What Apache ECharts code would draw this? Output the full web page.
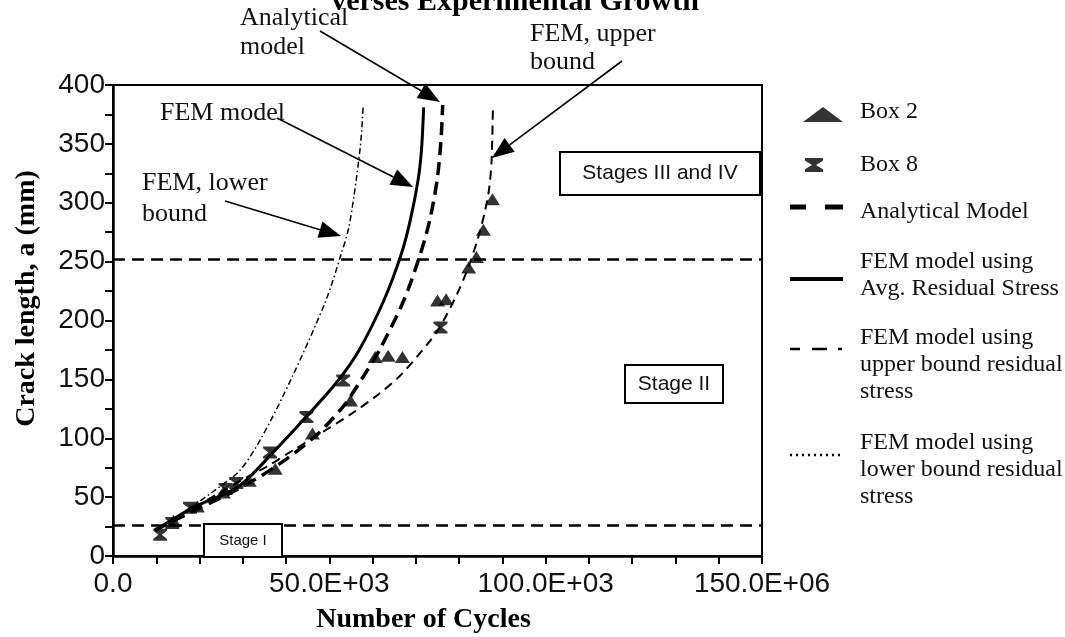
<!DOCTYPE html>
<html>
<head>
<meta charset="utf-8">
<script src="https://cdn.jsdelivr.net/npm/echarts@6/dist/echarts.min.js"></script>
<style>html,body{margin:0;padding:0;background:#fff}#c{width:1065px;height:637px}</style>
</head>
<body>
<div id="c"></div>
<script>
// ---------------- DATA ----------------
const xTickLabels = ['0.0', '50.0E+03', '100.0E+03', '150.0E+06'];

const box2Cycles = [87700, 85600, 84000, 82200, 75000, 77000, 60600, 63600, 66900, 54900, 46100, 37500, 31500, 25500, 19500, 14000];
const box2Crack  = [303, 277, 254, 245, 217, 218, 169, 170, 169, 132, 104, 74, 64, 54, 42, 30];

const box8Cycles = [75700, 53200, 44700, 36300, 28500, 26000, 17800, 13700, 10900];
const box8Crack  = [194, 149, 118, 88, 62, 57, 41, 28, 18];

const analyticalCycles = [9700, 19000, 28500, 37600, 46500, 53000, 57600, 61600, 67200, 71000, 73200, 74900, 75800, 76200];
const analyticalCrack  = [22, 39, 56, 76, 101, 126, 151, 175, 217, 256, 285, 319, 353, 383];

const femAvgCycles = [9700, 18500, 29000, 37000, 44600, 51800, 56900, 62600, 66600, 68700, 70500, 71300, 71800];
const femAvgCrack  = [22, 41, 59, 88, 118, 148, 175, 217, 256, 285, 319, 345, 381];

const femUpperCycles = [9700, 17800, 24800, 31000, 35600, 41700, 47900, 55200, 61600, 66600, 72900, 75500, 79600, 82100, 84200, 85800, 86900, 87500, 87800];
const femUpperCrack  = [22, 39, 54, 67, 76, 90, 104, 121, 138, 154, 181, 194, 223, 245, 268, 290, 311, 336, 381];

const femLowerCycles = [9700, 17800, 23600, 29400, 34400, 41400, 49200, 52700, 54500, 56200, 57300, 57800];
const femLowerCrack  = [22, 41, 56, 73, 101, 152, 217, 256, 279, 319, 353, 381];

const stageBoundaries = [252, 26];

// ---------------- LAYOUT / STYLE ----------------
const SERIF = 'Liberation Serif', SANS = 'Liberation Sans';
const zip = (xs, ys) => xs.map((x, i) => [x, ys[i]]);
const HOURGLASS = 'path://M0,0 L10,0 L10,1.6 L6.2,5 L10,8.4 L10,10 L0,10 L0,8.4 L3.8,5 L0,1.6 Z';

function dots(n, step, w, y0, y1) {
  let s = '';
  for (let i = 0; i < n; i++) { const x = i * step; s += `M${x},${y0} L${x + w},${y0} L${x + w},${y1} L${x},${y1} Z `; }
  return s;
}

const legendLayout = [
  { name: 'Box 2', label: 'Box 2', top: 98.5, h: 20,
    icon: 'path://M0,0 L0,0 M13,20 L33,5 L53,20 Z M65,20 L65,20' },
  { name: 'Box 8', label: 'Box 8', top: 151.5, h: 14,
    icon: 'path://M0,0 L0,0 M15,0 L33,0 L33,2.8 L26,7 L33,11.2 L33,14 L15,14 L15,11.2 L22,7 L15,2.8 Z M65,14 L65,14' },
  { name: 'Analytical Model', label: 'Analytical Model', top: 198.5, h: 20,
    icon: 'path://M0,0 L0,0 M0,2.5 L16,2.5 L16,7.5 L0,7.5 Z M35,2.5 L53,2.5 L53,7.5 L35,7.5 Z M65,20 L65,20' },
  { name: 'FEM model using Avg. Residual Stress', label: 'FEM model using\nAvg. Residual Stress', top: 248.5, h: 20,
    icon: 'path://M0,0 L0,0 M0,11.5 L53,11.5 L53,15.5 L0,15.5 Z M65,20 L65,20' },
  { name: 'FEM model using upper bound residual stress', label: 'FEM model using\nupper bound residual\nstress', top: 324.5, h: 40,
    icon: 'path://M0,0 L0,0 M0,2.75 L10,2.75 L10,5.25 L0,5.25 Z M22,2.75 L37,2.75 L37,5.25 L22,5.25 Z M48,2.75 L52,2.75 L52,5.25 L48,5.25 Z M65,40 L65,40' },
  { name: 'FEM model using lower bound residual stress', label: 'FEM model using\nlower bound residual\nstress', top: 429.5, h: 40,
    icon: 'path://M0,0 L0,0 ' + dots(9, 6, 2, 3.75, 6.25) + 'M65,40 L65,40' }
];

function arrow(x1, y1, x2, y2) {
  const a = Math.atan2(y2 - y1, x2 - x1), L = 22, W = 8.5;
  const bx = x2 - L * Math.cos(a), by = y2 - L * Math.sin(a);
  const nx = -Math.sin(a) * W, ny = Math.cos(a) * W;
  return [
    { type: 'line', silent: true, shape: { x1: x1, y1: y1, x2: bx, y2: by }, style: { stroke: '#000', lineWidth: 1.6 } },
    { type: 'polygon', silent: true, shape: { points: [[x2, y2], [bx + nx, by + ny], [bx - nx, by - ny]] }, style: { fill: '#000' } }
  ];
}
function note(text, x, y, lh) {
  return { type: 'text', silent: true, x: x, y: y,
    style: { text: text, font: `26px "${SERIF}"`, fill: '#111', lineHeight: lh, textVerticalAlign: 'top' } };
}
function stageBox(text, x, y, w, h, fs) {
  return [
    { type: 'rect', silent: true, shape: { x: x, y: y, width: w, height: h }, style: { fill: '#fff', stroke: '#000', lineWidth: 2 }, z: 50 },
    { type: 'text', silent: true, x: x + w / 2, y: y + h / 2, z: 51,
      style: { text: text, font: `${fs}px "${SANS}"`, fill: '#111', align: 'center', verticalAlign: 'middle' } }
  ];
}

const graphics = [].concat(
  [{ type: 'text', silent: true, x: 515, y: 2,
     style: { text: 'verses Experimental Growth', font: `bold 30px "${SERIF}"`, fill: '#000', align: 'center', verticalAlign: 'middle' } }],
  [note('Analytical\nmodel', 240, 4, 29)], arrow(320, 31, 440, 102),
  [note('FEM, upper\nbound', 530, 20, 28)], arrow(622, 61, 492, 158),
  [note('FEM model', 160, 99, 29)], arrow(277, 118, 413, 187),
  [note('FEM, lower\nbound', 142, 168, 31)], arrow(225, 201, 341, 236),
  stageBox('Stages III and IV', 560, 152, 200, 43, 21),
  stageBox('Stage II', 625, 365, 98, 38, 21),
  stageBox('Stage I', 204, 524, 78, 33, 15)
);

const chart = echarts.init(document.getElementById('c'), null, { renderer: 'canvas' });

const lineCommon = { type: 'line', smooth: 0.3, symbol: 'none', color: '#000', z: 3 };

const option = {
  backgroundColor: '#fff',
  animation: false,
  grid: { left: 113, right: 303, top: 85, bottom: 81, show: true, borderColor: '#000', borderWidth: 2,
          containLabel: false, outerBoundsMode: 'none' },
  xAxis: {
    type: 'value', min: 0, max: 150000, interval: 50000,
    name: 'Number of Cycles', nameLocation: 'middle', nameGap: 50,
    nameTextStyle: { fontFamily: SERIF, fontWeight: 'bold', fontSize: 28, color: '#000', padding: [0, 28, 0, 0] },
    axisLine: { show: true, lineStyle: { color: '#000', width: 2.5 } },
    axisTick: { show: true, inside: false, length: 8, lineStyle: { color: '#000', width: 2 } },
    minorTick: { show: true, splitNumber: 5, length: 8, lineStyle: { color: '#000', width: 2 } },
    splitLine: { show: false }, minorSplitLine: { show: false },
    axisLabel: { fontFamily: SANS, fontSize: 28, color: '#111', margin: 14,
                 formatter: v => xTickLabels[Math.round(v / 50000)] }
  },
  yAxis: {
    type: 'value', min: 0, max: 400, interval: 50,
    name: 'Crack length, a (mm)', nameLocation: 'middle', nameGap: 72, nameRotate: 90,
    nameTextStyle: { fontFamily: SERIF, fontWeight: 'bold', fontSize: 28, color: '#000', padding: [0, 0, 0, 44] },
    axisLine: { show: true, lineStyle: { color: '#000', width: 2.5 } },
    axisTick: { show: true, inside: false, length: 8, lineStyle: { color: '#000', width: 2 } },
    minorTick: { show: true, splitNumber: 2, length: 8, lineStyle: { color: '#000', width: 2 } },
    splitLine: { show: false }, minorSplitLine: { show: false },
    axisLabel: { fontFamily: SANS, fontSize: 28, color: '#111', margin: 8 }
  },
  legend: legendLayout.map(l => ({
    left: 790, top: l.top, orient: 'vertical', padding: 0, itemWidth: 65, itemHeight: l.h,
    selectedMode: false, itemStyle: { borderWidth: 0 },
    data: [{ name: l.name, icon: l.icon }],
    formatter: () => l.label,
    textStyle: { fontFamily: SERIF, fontSize: 24, lineHeight: 27, color: '#111' }
  })),
  graphic: graphics,
  series: [
    Object.assign({}, lineCommon, { name: 'FEM model using lower bound residual stress', data: zip(femLowerCycles, femLowerCrack),
      lineStyle: { color: '#000', width: 1.5, type: [6, 3, 1.5, 3] } }),
    Object.assign({}, lineCommon, { name: 'FEM model using upper bound residual stress', data: zip(femUpperCycles, femUpperCrack),
      lineStyle: { color: '#000', width: 2, type: [9, 6] } }),
    Object.assign({}, lineCommon, { name: 'Analytical Model', data: zip(analyticalCycles, analyticalCrack),
      lineStyle: { color: '#000', width: 3.5, type: [13, 7] } }),
    Object.assign({}, lineCommon, { name: 'FEM model using Avg. Residual Stress', data: zip(femAvgCycles, femAvgCrack),
      lineStyle: { color: '#000', width: 3, type: 'solid' },
      markLine: { silent: true, symbol: 'none', label: { show: false },
                  lineStyle: { color: '#000', width: 2.5, type: [12, 7] },
                  data: stageBoundaries.map(v => ({ yAxis: v })) } }),
    { name: 'Box 2', type: 'scatter', data: zip(box2Cycles, box2Crack), symbol: 'triangle', symbolSize: [15, 12],
      color: '#000', itemStyle: { color: '#000' }, z: 4 },
    { name: 'Box 8', type: 'scatter', data: zip(box8Cycles, box8Crack), symbol: HOURGLASS, symbolSize: [14, 12],
      color: '#000', itemStyle: { color: '#000' }, z: 4 }
  ]
};
chart.setOption(option);
</script>
</body>
</html>
